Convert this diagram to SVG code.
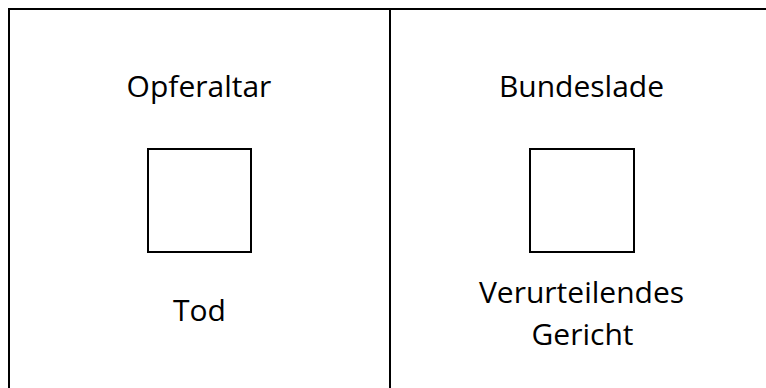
<svg xmlns="http://www.w3.org/2000/svg" width="766" height="388" viewBox="0 0 766 388">
<style>
.ln{stroke:#000;stroke-width:2;fill:none}
.bx{stroke:#000;stroke-width:2;fill:#fff}
.t{font-family:"Open Sans","Liberation Sans",sans-serif;font-size:30px;fill:#000;text-anchor:middle}
</style>
<rect width="766" height="388" fill="#fff"/>
<g id="frame">
<path class="ln" d="M9 388 V9 H766"/>
<path class="ln" d="M390 9 V388"/>
</g>
<g id="opferaltar">
<text class="t" x="199" y="97">Opferaltar</text>
<rect class="bx" x="148" y="149" width="103" height="103"/>
<text class="t" x="199.5" y="321">Tod</text>
</g>
<g id="bundeslade">
<text class="t" x="581.5" y="97">Bundeslade</text>
<rect class="bx" x="530" y="149" width="104" height="103"/>
<text class="t" x="581.5" y="303">Verurteilendes</text>
<text class="t" x="582.5" y="345">Gericht</text>
</g>
<g id="connectors"></g>
</svg>
